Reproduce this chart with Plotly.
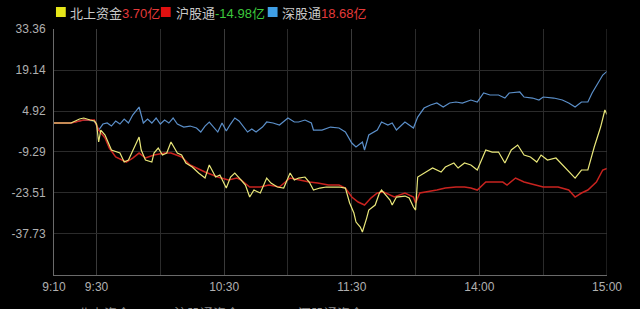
import plotly.graph_objects as go

# minutes of trading time since 9:10 (9:30=20, 10:30=80, 11:30=140, 14:00=200, 15:00=260)
tick_vals = [0, 20, 80, 140, 200, 260]
tick_text = ["9:10", "9:30", "10:30", "11:30", "14:00", "15:00"]
minor_vals = [50, 110, 170, 230]
y_ticks = [33.36, 19.14, 4.92, -9.29, -23.51, -37.73]
y_min, y_max = -51.96, 33.36

blue_t = [0, 8, 14, 19, 21, 23, 25, 27, 29, 31, 33, 35, 37, 40, 42, 44, 46, 48, 50, 52, 54, 56, 58,
          61, 64, 67, 69, 71, 73, 75, 77, 79, 81, 83, 85, 87, 89, 91, 93, 95, 98, 100, 103, 106,
          110, 113, 115, 118, 121, 122, 126, 130, 134, 137, 140, 142, 145, 146, 148, 152, 154, 157,
          159, 161, 165, 167, 169, 171, 174, 177, 180, 183, 186, 189, 192, 196, 199, 202, 205, 209,
          212, 214, 219, 221, 225, 228, 230, 235, 239, 242, 245, 248, 251, 253, 256, 258, 260]
blue_v = [0.75, 0.75, 1.79, 1.45, -1.68, 0.40, 0.75, -0.30, 1.45, 0.40, 2.14, 0.75, 3.53, 6.30, 0.75,
          2.14, 0.75, 2.49, 0.40, 1.79, 0.75, 2.49, 0.40, -0.64, -0.30, -0.98, -2.37, -0.30, 1.10,
          -0.64, -2.37, 0.75, -2.03, 0.40, 2.49, 1.45, -0.64, -2.37, -1.33, -2.37, -0.64, 1.10, 0.75,
          0.06, 2.49, 1.10, 1.10, 1.79, 0.75, -1.68, -1.68, -0.64, -0.98, -2.37, -6.19, -7.57, -5.84,
          -8.61, -3.41, -1.68, 1.10, 0.06, 0.75, -1.68, 1.10, 0.06, -0.98, 2.83, 5.95, 7.00, 7.69,
          6.30, 7.69, 8.04, 7.69, 8.73, 8.04, 11.16, 10.47, 10.47, 9.42, 11.16, 11.51, 9.77, 9.42,
          8.73, 9.77, 9.42, 8.73, 7.69, 6.30, 8.04, 8.04, 11.16, 14.63, 17.40, 18.68]

red_t = [0, 8, 14, 19, 21, 24, 26, 29, 34, 37, 40, 43, 47, 52, 55, 60, 64, 71, 77, 82, 86, 88, 92,
         97, 101, 106, 111, 115, 120, 124, 129, 134, 137, 140, 143, 146, 149, 152, 155, 160, 165,
         169, 170, 172, 175, 180, 184, 189, 193, 196, 199, 203, 207, 211, 213, 217, 221, 226, 230,
         237, 242, 245, 248, 251, 255, 258, 260]
red_v = [0.75, 0.75, 1.79, 1.79, -1.68, -4.45, -7.92, -11.04, -12.78, -11.39, -9.66, -11.39, -10.35,
         -9.66, -9.66, -11.04, -13.82, -16.25, -17.98, -19.02, -18.33, -19.02, -21.45, -21.45,
         -20.76, -21.45, -18.33, -19.02, -19.72, -20.06, -20.76, -20.76, -21.80, -24.92, -26.66,
         -27.69, -25.27, -23.53, -23.18, -24.92, -23.53, -24.92, -27.00, -23.53, -23.18, -22.49,
         -21.80, -21.45, -21.45, -21.80, -22.49, -19.72, -19.72, -19.72, -20.76, -18.33, -19.72,
         -20.76, -21.45, -21.45, -22.49, -24.92, -23.53, -22.49, -19.72, -15.55, -14.98]

yellow_t = [0, 8, 12, 14, 17, 19, 20, 21, 22, 24, 25, 27, 31, 33, 35, 38, 40, 41, 43, 46, 47, 49, 51,
            53, 55, 58, 60, 62, 65, 68, 71, 73, 76, 78, 81, 83, 85, 88, 90, 92, 94, 97, 100, 102,
            105, 108, 111, 113, 115, 118, 120, 122, 125, 128, 134, 137, 139, 141, 142, 144, 145,
            147, 148, 151, 153, 154, 158, 159, 161, 165, 167, 169, 170, 171, 175, 178, 182, 184,
            188, 190, 193, 196, 199, 203, 206, 209, 212, 215, 218, 221, 224, 227, 229, 232, 236,
            239, 242, 245, 248, 251, 254, 257, 259, 260]
yellow_v = [0.75, 0.75, 2.14, 2.49, 1.79, 1.45, 0.40, -5.84, -1.68, -3.41, -5.15, -8.61, -9.66,
            -12.78, -12.08, -7.57, -4.11, -8.61, -12.08, -12.78, -9.66, -7.92, -10.35, -9.66, -5.84,
            -9.66, -10.35, -13.12, -14.51, -16.59, -18.33, -13.82, -17.98, -17.29, -21.80, -17.98,
            -16.59, -19.02, -20.76, -24.92, -22.49, -23.53, -18.33, -20.06, -21.45, -21.80, -16.59,
            -19.02, -18.33, -17.98, -19.72, -22.49, -21.80, -21.45, -21.45, -21.80, -27.00, -30.47,
            -33.59, -35.33, -37.06, -32.21, -29.43, -27.69, -23.53, -22.49, -25.96, -27.69, -24.92,
            -24.57, -25.27, -28.39, -29.43, -17.98, -16.25, -14.86, -16.25, -14.51, -13.12, -14.86,
            -13.12, -13.82, -15.55, -8.61, -9.31, -9.31, -13.12, -8.61, -6.88, -10.35, -11.04,
            -12.78, -10.35, -12.08, -11.39, -13.82, -16.25, -18.33, -15.55, -15.55, -7.57, -0.64,
            5.26, 3.70]

W, H = 640, 309
L, R, T, B = 43, 607, 29, 275


def px(x):
    return (x - L) / (R - L)


def py(y):
    return (B - y) / (B - T)


fig = go.Figure()
fig.add_trace(go.Scatter(x=blue_t, y=blue_v, mode="lines",
                         line=dict(color="#5b8fc9", width=1.2), hoverinfo="skip"))
fig.add_trace(go.Scatter(x=red_t, y=red_v, mode="lines",
                         line=dict(color="#c8231f", width=1.5), hoverinfo="skip"))
fig.add_trace(go.Scatter(x=yellow_t, y=yellow_v, mode="lines",
                         line=dict(color="#e9e77a", width=1.2), hoverinfo="skip"))

grid = "#2b2b2b"
fig.update_layout(
    width=W, height=H, showlegend=False,
    margin=dict(l=L, r=W - R, t=T, b=H - B, pad=0),
    paper_bgcolor="#000000", plot_bgcolor="#000000",
    font=dict(family="Liberation Sans, Arial, Noto Sans CJK SC", color="#b0b0b0", size=12),
    xaxis=dict(range=[0, 260], tickvals=tick_vals, ticktext=tick_text, showgrid=True,
               gridcolor="#3a3a3a", gridwidth=1, zeroline=False, showline=True,
               linecolor="#6a6a6a", linewidth=1, ticks="", ticklabelstandoff=1,
               tickfont=dict(size=12, color="#b0b0b0"),
               minor=dict(tickvals=minor_vals, showgrid=True, gridcolor=grid, gridwidth=1)),
    yaxis=dict(range=[y_min, y_max], tickvals=y_ticks, ticktext=[f"{v:.2f}" for v in y_ticks],
               showgrid=True, gridcolor=grid, gridwidth=1, zeroline=False, showline=True,
               linecolor="#6a6a6a", linewidth=1, ticks="", ticklabelstandoff=5,
               tickfont=dict(size=12, color="#b0b0b0")),
)

# right border line at 15:00
fig.add_shape(type="line", xref="x", yref="paper", x0=260, x1=260, y0=0, y1=1,
              line=dict(color="#3a3a3a", width=1))

# legend (top)
squares = [(45, "#e6e619"), (152, "#e01010"), (261, "#3f9fe6")]
for x0, c in squares:
    fig.add_shape(type="rect", xref="paper", yref="paper",
                  x0=px(x0), x1=px(x0 + 10), y0=py(17), y1=py(7),
                  fillcolor=c, line=dict(width=0))

cjk = "Noto Sans CJK SC"
num = "Liberation Sans, Arial"
items = [
    (57, "北上资金", "3.70亿", "#e53a3a"),
    (165, "沪股通", "-14.98亿", "#3cc83c"),
    (274, "深股通", "18.68亿", "#e53a3a"),
]
for x0, name, val, vc in items:
    fig.add_annotation(
        xref="paper", yref="paper", x=px(x0), y=py(13), xanchor="left", yanchor="middle",
        showarrow=False,
        text=f"<span style='color:#c8c8c8'>{name}</span><span style='color:{vc}'>{val}</span>",
        font=dict(family=f"{num}, {cjk}", size=13), align="left")

# second legend row at the very bottom, mostly clipped by the frame as in the source image
bottom_items = [(65, "北上资金", "#8c8c8c"), (163, "沪股通资金", "#8c8c8c"), (290, "深股通资金", "#8c8c8c")]
for x0, name, c in bottom_items:
    fig.add_annotation(xref="paper", yref="paper", x=px(x0), y=py(304), xanchor="left",
                       yanchor="top", showarrow=False, text=name,
                       font=dict(family=f"{num}, {cjk}", size=13, color=c))

fig.write_html("out.html")
